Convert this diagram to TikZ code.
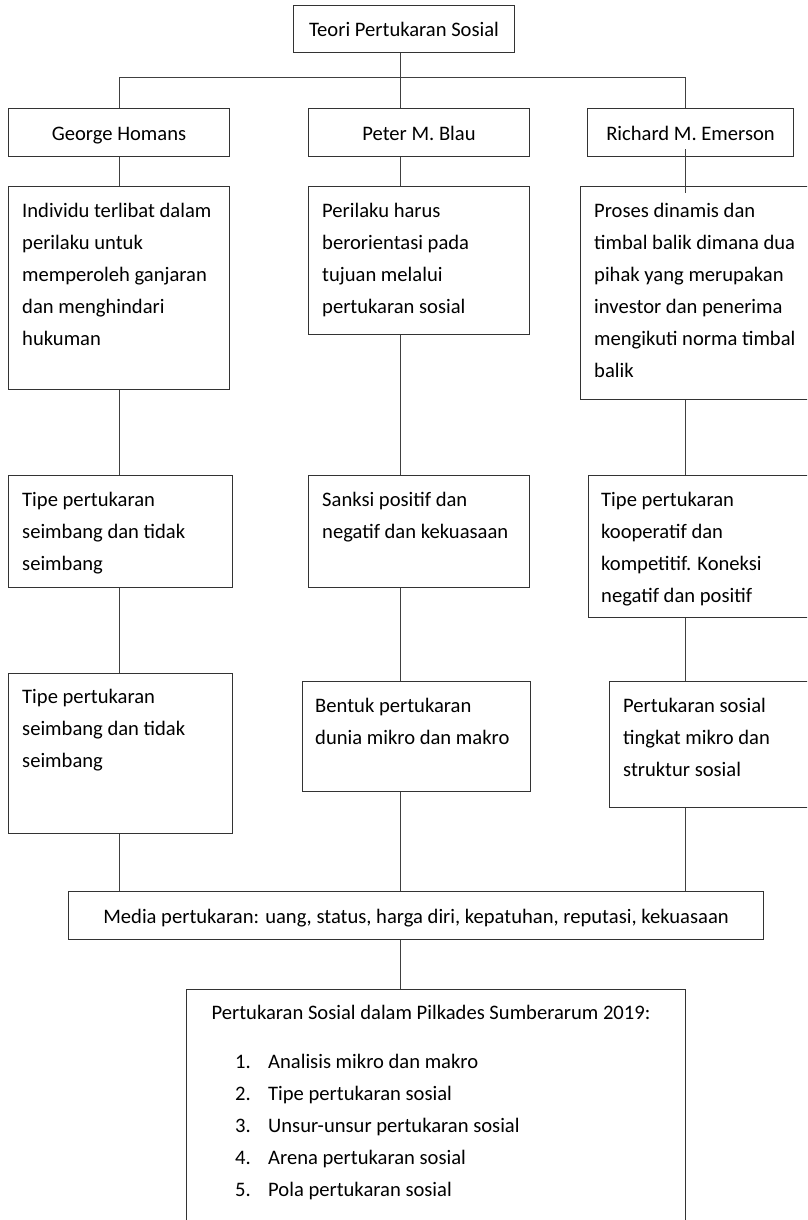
\documentclass[tikz,border=0pt]{standalone}
\usepackage{fontspec}
\setmainfont{Carlito}
\usetikzlibrary{positioning}
\newcommand{\boxfont}{\fontsize{20.6}{32}\selectfont}

\begin{document}
\begin{tikzpicture}[x=1pt,y=-1pt,
    box/.style={draw=black!80, line width=1pt, anchor=north west, inner sep=0pt, font=\boxfont},
    title/.style={box, text height=18pt, text depth=2pt},
    txt/.style={anchor=north west, align=left, inner sep=0pt, font=\boxfont},
    link/.style={draw=black!75, line width=0.9pt}]
    \useasboundingbox (0,0) rectangle (807,1220);
    \clip (0,0) rectangle (807,1220);

    % columns of the connectors
    \coordinate (colL) at (119,0);
    \coordinate (colM) at (400,0);
    \coordinate (colR) at (685,0);
    \coordinate (busL) at (119,77);
    \coordinate (busR) at (685,77);

    \node[title, minimum width=221pt, minimum height=47pt] (teori) at (293,5) {Teori Pertukaran Sosial};

    % level 1
    \node[title, minimum width=221pt, minimum height=48pt] (homans) at (8,108) {George Homans};
    \node[title, minimum width=221pt, minimum height=48pt] (blau) at (308,108) {Peter M. Blau};
    \node[title, minimum width=206pt, minimum height=48pt] (emerson) at (587,108) {Richard M. Emerson};

    % level 2
    \node[box, minimum width=221pt, minimum height=203pt] (homansA) at (8,186) {};
    \node[txt, below right=17pt and 14pt of homansA.north west] (homansAtxt) {Individu terlibat dalam\\perilaku untuk\\memperoleh ganjaran\\dan menghindari\\hukuman};
    \node[box, minimum width=221pt, minimum height=148pt] (blauA) at (308,186) {};
    \node[txt, below right=17pt and 14pt of blauA.north west] (blauAtxt) {Perilaku harus\\berorientasi pada\\tujuan melalui\\pertukaran sosial};
    \node[box, minimum width=230pt, minimum height=213pt] (emersonA) at (580,186) {};
    \node[txt, below right=17pt and 14pt of emersonA.north west] (emersonAtxt) {Proses dinamis dan\\timbal balik dimana dua\\pihak yang merupakan\\investor dan penerima\\mengikuti norma timbal\\balik};

    % level 3
    \node[box, minimum width=224pt, minimum height=112pt] (homansB) at (8,475) {};
    \node[txt, below right=17pt and 14pt of homansB.north west] (homansBtxt) {Tipe pertukaran\\seimbang dan tidak\\seimbang};
    \node[box, minimum width=221pt, minimum height=112pt] (blauB) at (308,475) {};
    \node[txt, below right=17pt and 14pt of blauB.north west] (blauBtxt) {Sanksi positif dan\\negatif dan kekuasaan};
    \node[box, minimum width=222pt, minimum height=142pt] (emersonB) at (588,475) {};
    \node[txt, below right=17pt and 13pt of emersonB.north west] (emersonBtxt) {Tipe pertukaran\\kooperatif dan\\kompetitif. Koneksi\\negatif dan positif};

    % level 4
    \node[box, minimum width=224pt, minimum height=160pt] (homansC) at (8,673) {};
    \node[txt, below right=16pt and 14pt of homansC.north west] (homansCtxt) {Tipe pertukaran\\seimbang dan tidak\\seimbang};
    \node[box, minimum width=228pt, minimum height=110pt] (blauC) at (302,681) {};
    \node[txt, below right=17pt and 13pt of blauC.north west] (blauCtxt) {Bentuk pertukaran\\dunia mikro dan makro};
    \node[box, minimum width=201pt, minimum height=126pt] (emersonC) at (609,681) {};
    \node[txt, below right=17pt and 14pt of emersonC.north west] (emersonCtxt) {Pertukaran sosial\\tingkat mikro dan\\struktur sosial};

    \node[title, minimum width=695pt, minimum height=48pt] (media) at (68,891) {Media pertukaran: uang, status, harga diri, kepatuhan, reputasi, kekuasaan};

    \node[box, minimum width=499pt, minimum height=240pt] (pilkades) at (186,989) {};
    \node[txt, anchor=north, below=16pt of pilkades.north, xshift=-5pt] (pilkadesTitle) {Pertukaran Sosial dalam Pilkades Sumberarum 2019:};
    \node[txt, below right=65pt and 49pt of pilkades.north west] (pilkadesList) {%
        \makebox[33pt][l]{1.}Analisis mikro dan makro\\
        \makebox[33pt][l]{2.}Tipe pertukaran sosial\\
        \makebox[33pt][l]{3.}Unsur-unsur pertukaran sosial\\
        \makebox[33pt][l]{4.}Arena pertukaran sosial\\
        \makebox[33pt][l]{5.}Pola pertukaran sosial};

    % connectors
    \path[link] (teori.south -| colM) -- (blau.north -| colM);
    \path[link] (homans.north -| busL) -- (busL) -- (busR) -- (emerson.north -| busR);
    \foreach \a/\b in {homans/homansA, homansA/homansB, homansB/homansC, homansC/media}
        \path[link] (\a.south -| colL) -- (\b.north -| colL);
    \foreach \a/\b in {blau/blauA, blauA/blauB, blauB/blauC, blauC/media, media/pilkades}
        \path[link] (\a.south -| colM) -- (\b.north -| colM);
    \path[link, shorten <=-8pt, shorten >=-7pt] (emerson.south -| colR) -- (emersonA.north -| colR);
    \foreach \a/\b in {emersonA/emersonB, emersonB/emersonC, emersonC/media}
        \path[link] (\a.south -| colR) -- (\b.north -| colR);
\end{tikzpicture}
\end{document}
